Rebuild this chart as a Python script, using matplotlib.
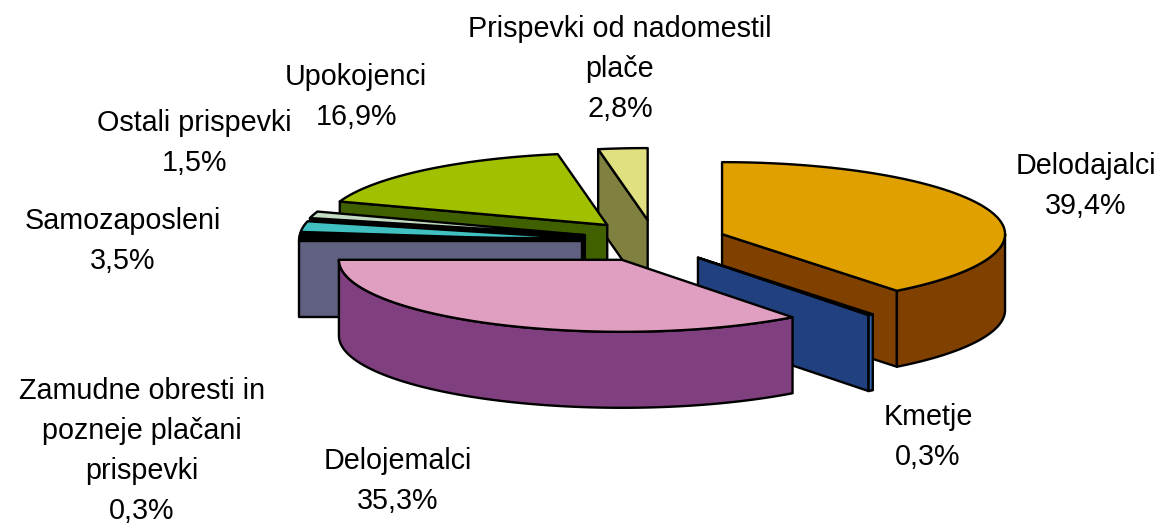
import numpy as np
import matplotlib
matplotlib.use("Agg")
import matplotlib.pyplot as plt
from matplotlib.patches import Polygon

plt.rcParams['font.family'] = ['Liberation Sans', 'DejaVu Sans']

# Data, clockwise from twelve o'clock
categories = ["Delodajalci", "Kmetje", "Delojemalci",
              "Zamudne obresti in\npozneje plačani\nprispevki",
              "Samozaposleni", "Ostali prispevki", "Upokojenci",
              "Prispevki od nadomestil\nplače"]
shares = [39.4, 0.3, 35.3, 0.3, 3.5, 1.5, 16.9, 2.8]
share_labels = ["39,4%", "0,3%", "35,3%", "0,3%", "3,5%", "1,5%", "16,9%", "2,8%"]

# Style per slice
top_colors = ["#e0a000", "#204080", "#e09fc0", "#000000", "#40c0c0", "#c4dcc4", "#a0c000", "#e0e080"]
cut_colors = ["#804000", "#204080", "#803f7f", "#606080", "#000000", "#000000", "#406000", "#808040"]
wall_colors = ["#804000", "#3060a8", "#803f7f", "#606080", "#000000", "#000000", "#406000", "#808040"]
label_xy = [(1086, 186), (928, 437), (398, 481), (142, 451), (123, 241), (194, 143), (356, 97), (620, 69)]
draw_order = [7, 6, 5, 4, 3, 0, 1, 2]
extra_sweep = [0, 0, 0, 6, 0, 0, 0, 0]  # thin slice rendered wider than its share

# Pie projection, in pixels
CX, CY = 654, 241
RX, RY = 283, 72
EX, EY = 72, 21
DEPTH = 76
LW = 1.7

fig = plt.figure(figsize=(11.59, 5.27), dpi=100, facecolor="white")
ax = fig.add_axes([0, 0, 1, 1])
ax.set_xlim(0, 1159)
ax.set_ylim(527, 0)
ax.axis("off")


def poly(points, color, z):
    ax.add_patch(Polygon(points, closed=True, facecolor=color, edgecolor="black",
                         linewidth=LW, joinstyle="round", zorder=z))


def rim(center, degrees):
    t = np.radians(degrees)
    return np.column_stack((center[0] + RX * np.sin(t), center[1] - RY * np.cos(t)))


def cut_face(center, deg, color, z):
    p = rim(center, [deg])[0]
    drop = np.array([0, DEPTH])
    poly([center, p, p + drop, np.array(center) + drop], color, z)


edges = np.concatenate(([0], np.cumsum(shares))) / sum(shares) * 360
for n, i in enumerate(draw_order):
    a0, a1 = edges[i], edges[i + 1]
    mid = np.radians((a0 + a1) / 2)
    center = (CX + EX * np.sin(mid), CY - EY * np.cos(mid))
    z = 10 + n * 5
    # Cut faces that look toward the viewer
    if a0 > 180:
        cut_face(center, a0, cut_colors[i], z)
    if a1 < 180:
        cut_face(center, a1, cut_colors[i], z)
    # Outer wall: only the lower half of the ellipse
    w0, w1 = max(a0, 90), min(a1, 270)
    if w1 > w0:
        arc = rim(center, np.linspace(w0, w1, 80))
        poly(np.vstack((arc, (arc + [0, DEPTH])[::-1])), wall_colors[i], z + 1)
    # Top
    top = rim(center, np.linspace(a0, a1 + extra_sweep[i], 160))
    poly(np.vstack(([center], top)), top_colors[i], z + 2)

for cat, lab, (x, y) in zip(categories, share_labels, label_xy):
    ax.text(x, y, f"{cat}\n{lab}", ha="center", va="center", multialignment="center",
            fontsize=20.7, linespacing=1.56, color="black", zorder=100)

fig.savefig("out.png", dpi=100)
